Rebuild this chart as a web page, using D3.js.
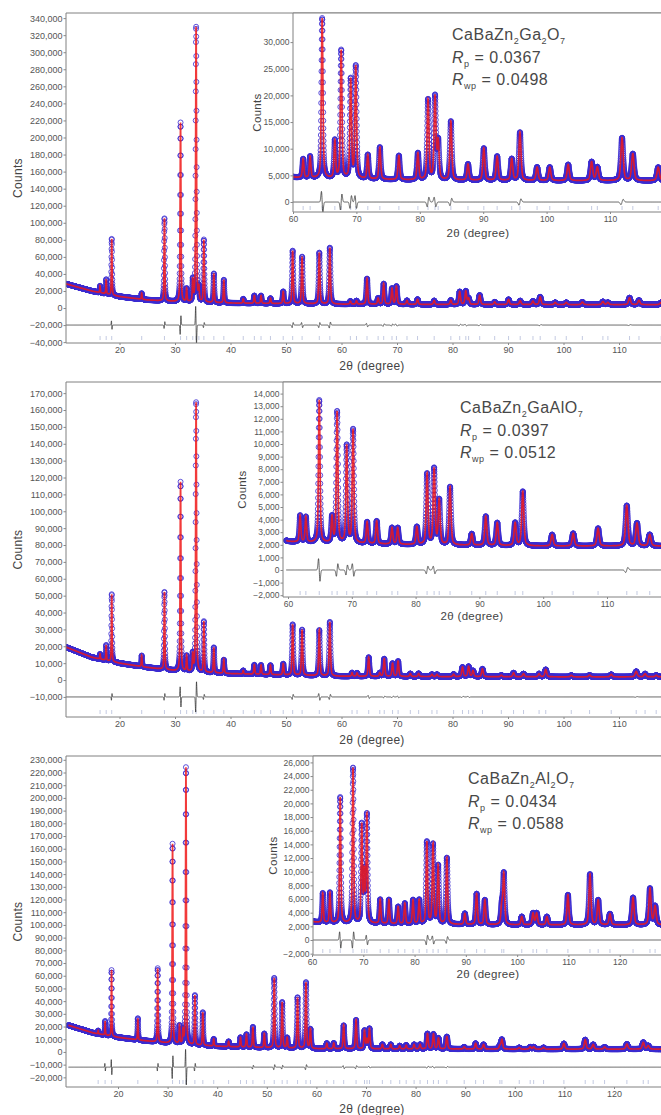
<!DOCTYPE html>
<html><head><meta charset="utf-8">
<script src="https://d3js.org/d3.v7.min.js"></script>
<style>
html,body{margin:0;padding:0;background:#fff;}
svg{display:block;font-family:"Liberation Sans",Arial,Helvetica,sans-serif;}
</style></head><body>
<svg id="chart" width="661" height="1115"></svg>
<script>
// ================= DATA =================
// Pattern 1: CaBaZn2Ga2O7 — reflection positions (2θ) and peak heights above background (counts)
const gaPeakPos = [16.5,17.6,18.6,24.0,28.1,31.0,32.1,33.2,33.8,34.3,35.2,37.0,38.8,42.3,44.3,45.5,47.2,49.5,51.2,52.9,56.0,57.9,61.6,62.7,64.6,66.6,67.6,69.1,69.9,71.8,73.7,76.7,79.7,81.3,82.4,82.9,84.9,87.6,90.1,92.2,94.5,95.8,98.5,100.5,103.4,107.1,108.0,111.9,113.6,117.6];
const gaPeakHt  = [8000,17000,66000,7000,97000,210000,15000,25000,323000,15000,73000,34000,27000,5000,9000,9000,6000,14000,62000,55000,60000,66000,3500,4000,30000,7000,24000,18500,21000,4500,6000,4500,5000,15000,15500,7000,11000,3000,6000,4500,4000,9000,2500,2500,3000,3500,2500,8000,5000,2500];
const gaBgPos = [10,15,20,25,30,35,40,50,60,80,100,120];
const gaBgVal = [29000,20000,13500,9500,7500,6500,5800,5200,4500,4100,4000,4000];
const gaDiffPos = [18.6,28.1,31.0,33.8,35.2,51.2,52.9,56.0,57.9,64.6,67.6,69.1,69.9,81.3,82.4,84.9,95.8,111.9];
const gaDiffAmp = [-5000,4000,11000,-22000,3000,3000,-3000,3000,3500,-2000,1500,1200,-1200,900,-900,700,600,500];

// Pattern 2: CaBaZn2GaAlO7
const gaalPeakPos = [16.5,17.6,18.6,24.0,28.1,31.0,32.1,33.2,33.8,35.2,37.0,38.8,42.3,44.3,45.5,47.2,49.5,51.2,52.9,56.0,57.9,61.9,62.8,64.9,66.9,67.7,69.2,70.2,72.4,73.9,76.3,77.2,80.2,81.8,82.9,83.7,85.4,88.8,91.0,92.8,95.6,96.8,101.4,104.7,108.6,113.1,114.7,116.7];
const gaalPeakHt  = [3000,9000,40000,6500,46000,112000,9000,10000,160000,30000,15000,8000,2000,5500,5500,5500,6500,30000,27000,27000,32000,2100,2000,11300,2000,10400,7700,9000,1700,1800,1300,1300,1400,5600,6000,3500,4600,900,2300,1800,1800,4300,900,1000,1400,3200,1800,900];
const gaalBgPos = [10,15,20,25,30,35,40,50,60,80,100,120];
const gaalBgVal = [20000,13500,10000,7500,5500,4500,3800,3000,2200,2000,1900,1900];
const gaalDiffPos = [18.6,28.1,31.0,33.8,35.2,51.2,56.0,57.9,64.9,67.7,69.2,70.2,81.8,82.9,113.1];
const gaalDiffAmp = [2000,2000,-6000,9000,1500,1500,-2000,1500,-900,500,400,-500,300,-300,200];

// Pattern 3: CaBaZn2Al2O7
const alPeakPos = [16.0,17.4,18.7,24.0,28.0,31.0,32.4,33.1,33.7,35.5,37.1,39.3,42.3,44.7,45.9,47.2,49.5,51.5,53.1,54.1,56.2,57.9,58.8,62.1,63.5,65.5,68.0,69.7,70.2,70.7,73.3,75.0,76.8,78.1,79.7,80.9,82.4,83.6,84.6,86.3,89.8,92.1,93.7,97.0,97.4,100.9,103.1,103.8,105.8,109.9,114.2,115.8,118.1,122.6,125.9,126.9];
const alPeakHt  = [2500,11000,52000,17000,58000,157000,14000,10000,218000,39000,26000,5500,4000,7500,10000,16000,11000,55000,36000,8000,40000,52000,15000,4300,4400,18400,22700,14200,7000,15700,3500,3500,2500,3000,3500,3500,12000,11600,8500,9700,1600,4500,3600,2600,7400,1200,1700,1700,1200,4400,7400,3600,1600,4000,5300,2700];
const alBgPos = [10,15,20,25,30,35,40,50,60,80,100,130];
const alBgVal = [21000,15000,11500,9000,7000,5500,4500,3300,2500,2300,2200,2200];
const alDiffPos = [17.4,18.7,28.0,31.0,33.7,35.5,47.2,51.5,53.1,57.9,65.5,68.0,70.7,82.4,83.6,86.3];
const alDiffAmp = [-3000,-6000,3000,9000,-14000,3000,1500,2000,1500,2000,-1200,1200,-700,700,-600,500];

// Tick labels
const mainXTicks12 = [20,30,40,50,60,70,80,90,100,110];
const mainXTicks3  = [20,30,40,50,60,70,80,90,100,110,120];
const insetXTicks12 = [60,70,80,90,100,110];
const insetXTicks3  = [60,70,80,90,100,110,120];
const p1YTicks = [-40000,-20000,0,20000,40000,60000,80000,100000,120000,140000,160000,180000,200000,220000,240000,260000,280000,300000,320000,340000];
const p2YTicks = [-10000,0,10000,20000,30000,40000,50000,60000,70000,80000,90000,100000,110000,120000,130000,140000,150000,160000,170000];
const p3YTicks = [-20000,-10000,0,10000,20000,30000,40000,50000,60000,70000,80000,90000,100000,110000,120000,130000,140000,150000,160000,170000,180000,190000,200000,210000,220000,230000];
const i1YTicks = [0,5000,10000,15000,20000,25000,30000];
const i2YTicks = [-2000,-1000,0,1000,2000,3000,4000,5000,6000,7000,8000,9000,10000,11000,12000,13000,14000];
const i3YTicks = [-2000,0,2000,4000,6000,8000,10000,12000,14000,16000,18000,20000,22000,24000,26000];

// Labels
const formula1 = [["CaBaZn",0],["2",1],["Ga",0],["2",1],["O",0],["7",1]];
const formula2 = [["CaBaZn",0],["2",1],["GaAlO",0],["7",1]];
const formula3 = [["CaBaZn",0],["2",1],["Al",0],["2",1],["O",0],["7",1]];
const rpValues  = ["0.0367","0.0397","0.0434"];
const rwpValues = ["0.0498","0.0512","0.0588"];
const xTitle = "2θ (degree)";
const yTitle = "Counts";

// ================= RENDERING =================
const W = 661;
const STEP = 0.015, ETA = 0.5;
const svg = d3.select('#chart');
let clipN = 0;

function peakWidth(t){ return 0.11 + 0.0032*(t-10); }

function buildProfile(pos, ht, bgPos, bgVal, dPos, dAmp, t0, t1){
  const bg = d3.scaleLinear().domain(bgPos).range(bgVal);
  const n = Math.round((t1-t0)/STEP);
  const out = [];
  for(let i=0;i<=n;i++){
    const t = t0 + i*STEP;
    let c = bg(t);
    for(let k=0;k<pos.length;k++){
      const u = (t-pos[k])/peakWidth(pos[k]);
      if(Math.abs(u)>60) continue;
      c += ht[k]*(ETA/(1+4*u*u) + (1-ETA)*Math.exp(-4*Math.LN2*u*u));
    }
    let d = 0;
    for(let k=0;k<dPos.length;k++){
      const u = (t-dPos[k])/(peakWidth(dPos[k])*0.4);
      if(Math.abs(u)>8) continue;
      d += dAmp[k]*u*Math.exp(0.5-u*u/2);
    }
    out.push({t, c, d});
  }
  return out;
}

function drawPlot(o){
  const g = svg.append('g');
  const x = d3.scaleLinear().domain(o.xd).range(o.xr);
  const y = d3.scaleLinear().domain(o.yd).range([o.bottom, o.top]);
  const right = W + 30;
  const id = 'cp' + (clipN++);
  g.append('clipPath').attr('id', id).append('rect')
    .attr('x', o.left).attr('y', o.top).attr('width', right-o.left).attr('height', o.bottom-o.top);
  g.append('rect').attr('x', o.left).attr('y', o.top).attr('width', right-o.left).attr('height', o.bottom-o.top).attr('fill', '#fff');
  const pg = g.append('g').attr('clip-path', `url(#${id})`);
  const prof = o.prof.filter(d => d.t >= o.xd[0]-0.3 && d.t <= o.xd[1]+0.3);

  // reflection markers
  const tp = d3.path();
  o.refl.forEach(t => { tp.moveTo(x(t), o.reflY); tp.lineTo(x(t), o.reflY-4); });
  pg.append('path').attr('d', tp.toString()).attr('stroke', '#9aa6cc').attr('stroke-width', 0.8).attr('fill', 'none').attr('opacity', 0.75);

  // difference
  pg.append('path').datum(prof)
    .attr('d', d3.line().x(d => x(d.t)).y(d => y(o.diffOff + d.d)))
    .attr('stroke', '#222').attr('stroke-width', 0.7).attr('fill', 'none');

  // observed
  const R = 2.5;
  const mp = d3.path();
  prof.forEach(d => { const cx = x(d.t), cy = y(d.c); mp.moveTo(cx+R, cy); mp.arc(cx, cy, R, 0, 2*Math.PI); });
  pg.append('path').attr('d', mp.toString()).attr('stroke', '#3a2ad0').attr('stroke-width', 0.9).attr('fill', 'none').attr('opacity', 0.9);

  // calculated
  pg.append('path').datum(prof)
    .attr('d', d3.line().x(d => x(d.t)).y(d => y(d.c)))
    .attr('stroke', '#f01818').attr('stroke-width', 1.7).attr('fill', 'none').attr('opacity', 0.85);

  // frame
  g.append('path').attr('d', `M${right},${o.top}H${o.left}V${o.bottom}H${right}`)
    .attr('stroke', '#808080').attr('stroke-width', 1).attr('fill', 'none');

  // axes
  const ya = g.append('g').attr('transform', `translate(${o.left},0)`)
    .call(d3.axisLeft(y).tickValues(o.yt).tickFormat(d3.format(',')).tickSize(2.5).tickPadding(1));
  ya.select('.domain').remove();
  ya.attr('font-size', o.fs).attr('font-family', null);
  ya.selectAll('text').attr('fill', '#555');
  ya.selectAll('line').attr('stroke', '#888');

  const xa = g.append('g').attr('transform', `translate(0,${o.bottom})`)
    .call(d3.axisBottom(x).tickValues(o.xt).tickFormat(d3.format('d')).tickSize(2).tickPadding(1.5));
  xa.select('.domain').remove();
  xa.attr('font-size', o.fs).attr('font-family', null);
  xa.selectAll('text').attr('fill', '#555');
  xa.selectAll('line').attr('stroke', '#888');

  g.append('text').attr('x', o.xTitleX).attr('y', o.bottom + o.xTitleDy)
    .attr('text-anchor', 'middle').attr('font-size', o.tfs).attr('fill', '#444').attr('letter-spacing', 0.3).text(xTitle);
  g.append('text').attr('transform', `translate(${o.yTitleX},${(o.top+o.bottom)/2}) rotate(-90)`)
    .attr('text-anchor', 'middle').attr('font-size', o.tfs).attr('fill', '#444').attr('letter-spacing', 0.3).text(yTitle);
  return g;
}

function drawLabel(xp, y0, formula, rp, rwp){
  const fs = 16;
  const t1 = svg.append('text').attr('x', xp).attr('y', y0).attr('font-size', fs).attr('fill', '#484848').attr('letter-spacing', 0.5);
  let lastSub = false;
  formula.forEach(([s, sub]) => {
    const dy = sub ? 4 : (lastSub ? -4 : 0);
    t1.append('tspan').attr('font-size', sub ? 9 : fs).attr('dy', dy).text(s);
    lastSub = !!sub;
  });
  const mk = (yy, subTxt, val) => {
    const t = svg.append('text').attr('x', xp).attr('y', yy).attr('font-size', fs).attr('fill', '#484848').attr('letter-spacing', 0.5);
    t.append('tspan').attr('font-style', 'italic').text('R');
    t.append('tspan').attr('font-size', 9).attr('dy', 4).text(subTxt);
    t.append('tspan').attr('dy', -4).text(' = ' + val);
  };
  mk(y0 + 23, 'p', rp);
  mk(y0 + 45, 'wp', rwp);
}

const prof1 = buildProfile(gaPeakPos, gaPeakHt, gaBgPos, gaBgVal, gaDiffPos, gaDiffAmp, 10, 120);
const prof2 = buildProfile(gaalPeakPos, gaalPeakHt, gaalBgPos, gaalBgVal, gaalDiffPos, gaalDiffAmp, 10, 120);
const prof3 = buildProfile(alPeakPos, alPeakHt, alBgPos, alBgVal, alDiffPos, alDiffAmp, 10, 130);

// Panel 1
drawPlot({prof: prof1, refl: gaPeakPos, left: 66, top: 13, bottom: 343,
  xd: [10,120], xr: [64, 674.5], yd: [-41000, 346000], yt: p1YTicks, xt: mainXTicks12,
  diffOff: -20000, reflY: 340, fs: 9, tfs: 12, xTitleX: 372, xTitleDy: 27, yTitleX: 22});
drawPlot({prof: prof1.filter(d => d.t >= 60), refl: gaPeakPos.filter(t => t >= 60), left: 293, top: 13, bottom: 212,
  xd: [60,120], xr: [293, 673.4], yd: [-1876, 35460], yt: i1YTicks, xt: insetXTicks12,
  diffOff: 0, reflY: 210, fs: 8.5, tfs: 11.5, xTitleX: 478, xTitleDy: 25, yTitleX: 261});
drawLabel(452, 40, formula1, rpValues[0], rwpValues[0]);

// Panel 2
drawPlot({prof: prof2, refl: gaalPeakPos, left: 66, top: 382, bottom: 717,
  xd: [10,120], xr: [64, 674.5], yd: [-21900, 176600], yt: p2YTicks, xt: mainXTicks12,
  diffOff: -10000, reflY: 714, fs: 9, tfs: 12, xTitleX: 372, xTitleDy: 27, yTitleX: 22});
drawPlot({prof: prof2.filter(d => d.t >= 59), refl: gaalPeakPos.filter(t => t >= 59), left: 283, top: 382, bottom: 597,
  xd: [60,120], xr: [288, 670.8], yd: [-2143, 14921], yt: i2YTicks, xt: insetXTicks12,
  diffOff: 0, reflY: 595, fs: 8.5, tfs: 11.5, xTitleX: 472, xTitleDy: 23, yTitleX: 246});
drawLabel(460, 413, formula2, rpValues[1], rwpValues[1]);

// Panel 3
drawPlot({prof: prof3, refl: alPeakPos, left: 66, top: 756, bottom: 1087,
  xd: [10,130], xr: [68.4, 663.6], yd: [-27600, 233000], yt: p3YTicks, xt: mainXTicks3,
  diffOff: -12000, reflY: 1084, fs: 9, tfs: 12, xTitleX: 372, xTitleDy: 26, yTitleX: 22});
drawPlot({prof: prof3.filter(d => d.t >= 60), refl: alPeakPos.filter(t => t >= 60), left: 313, top: 756, bottom: 955,
  xd: [60,130], xr: [312, 671], yd: [-2196, 26940], yt: i3YTicks, xt: insetXTicks3,
  diffOff: 0, reflY: 953, fs: 8.5, tfs: 11.5, xTitleX: 488, xTitleDy: 23, yTitleX: 277});
drawLabel(468, 784, formula3, rpValues[2], rwpValues[2]);
</script>
</body></html>
